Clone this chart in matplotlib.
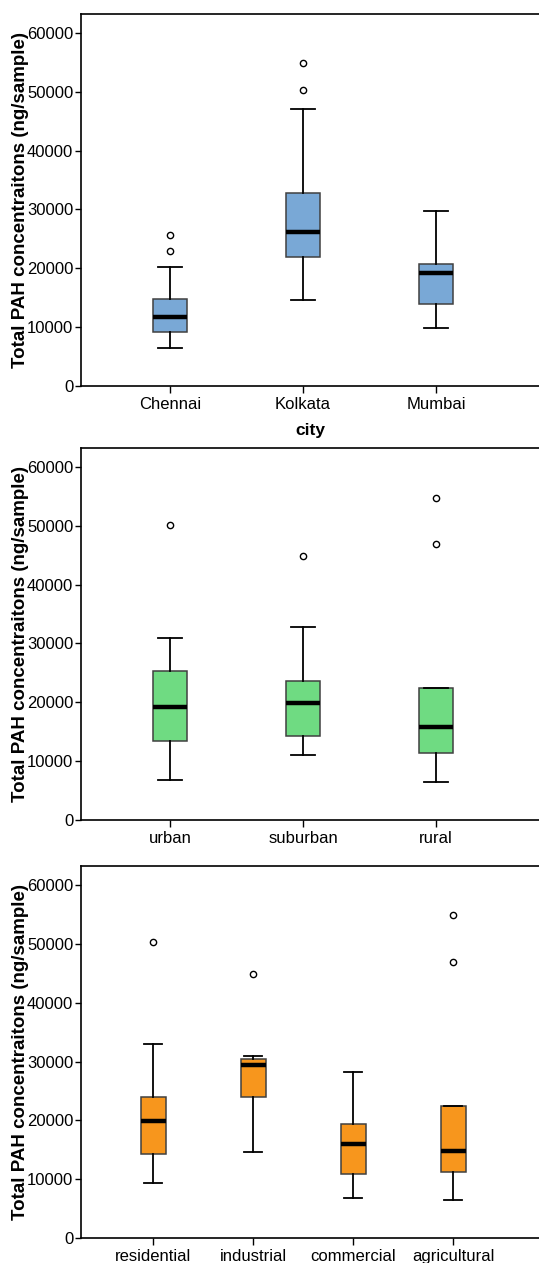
import matplotlib
matplotlib.use('Agg')
import matplotlib.pyplot as plt

plt.rcParams['font.family'] = ['Liberation Sans', 'DejaVu Sans']

YLABEL = 'Total PAH concentraitons (ng/sample)'

# city panel
city = ['Chennai', 'Kolkata', 'Mumbai']
city_low = [6500, 14600, 9900]
city_q1 = [9250, 21950, 13950]
city_med = [11750, 26200, 19250]
city_q3 = [14700, 32800, 20700]
city_high = [20250, 47000, 29800]
city_fliers = [[23000, 25700], [50250, 54850], []]

# area type panel
area = ['urban', 'suburban', 'rural']
area_low = [6800, 11050, 6500]
area_q1 = [13450, 14200, 11300]
area_med = [19250, 19800, 15750]
area_q3 = [25300, 23650, 22450]
area_high = [30900, 32800, 22450]
area_fliers = [[50200], [44850], [46950, 54750]]

# land use panel
land = ['residential', 'industrial', 'commercial', 'agricultural']
land_low = [9350, 14650, 6800, 6450]
land_q1 = [14300, 23900, 10850, 11300]
land_med = [19900, 29400, 16000, 14750]
land_q3 = [23950, 30400, 19300, 22500]
land_high = [32900, 30950, 28250, 22500]
land_fliers = [[50250], [44900], [], [47000, 54850]]


def make_stats(labels, low, q1, med, q3, high, fliers):
    stats = []
    for i in range(len(labels)):
        stats.append({'label': labels[i], 'whislo': low[i], 'q1': q1[i],
                      'med': med[i], 'q3': q3[i], 'whishi': high[i],
                      'fliers': fliers[i]})
    return stats


def draw(ax, stats, color, xlabel=None):
    n = len(stats)
    ax.bxp(stats, positions=range(1, n + 1), widths=0.25, patch_artist=True,
           showfliers=True,
           boxprops=dict(facecolor=color, edgecolor='#404040', linewidth=1.1),
           medianprops=dict(color='black', linewidth=3.2, solid_capstyle='butt'),
           whiskerprops=dict(color='black', linewidth=1.3),
           capprops=dict(color='black', linewidth=1.3),
           capwidths=0.18,
           flierprops=dict(marker='o', markersize=4.5, markerfacecolor='white',
                           markeredgecolor='black', markeredgewidth=1))
    ax.set_ylim(0, 63230)
    ax.set_yticks([0, 10000, 20000, 30000, 40000, 50000, 60000])
    ax.spines['right'].set_visible(False)
    for s in ['left', 'bottom', 'top']:
        ax.spines[s].set_linewidth(1.2)
    ax.tick_params(axis='both', labelsize=12, width=1, direction='out')
    ax.tick_params(axis='y', length=4, pad=1.5)
    ax.tick_params(axis='x', length=5, pad=3)
    ax.set_ylabel(YLABEL, fontsize=13.5, fontweight='bold')
    ax.yaxis.set_label_coords(-0.1135, 0.5)
    if xlabel:
        ax.set_xlabel(xlabel, fontsize=12.5, fontweight='bold', labelpad=8)


fig = plt.figure(figsize=(5.39, 12.63), dpi=100)

ax1 = fig.add_axes([0.1503, 0.6944, 0.8497, 0.2945])
draw(ax1, make_stats(city, city_low, city_q1, city_med, city_q3, city_high, city_fliers),
     '#79a8d6', 'city')
ax1.set_xlim(0.331, 3.774)

ax2 = fig.add_axes([0.1503, 0.3508, 0.8497, 0.2945])
draw(ax2, make_stats(area, area_low, area_q1, area_med, area_q3, area_high, area_fliers),
     '#6fdb82')
ax2.set_xlim(0.331, 3.774)

ax3 = fig.add_axes([0.1503, 0.0198, 0.8497, 0.2945])
draw(ax3, make_stats(land, land_low, land_q1, land_med, land_q3, land_high, land_fliers),
     '#f7961d')
ax3.set_xlim(0.28, 4.86)

fig.savefig('out.png', dpi=100)
